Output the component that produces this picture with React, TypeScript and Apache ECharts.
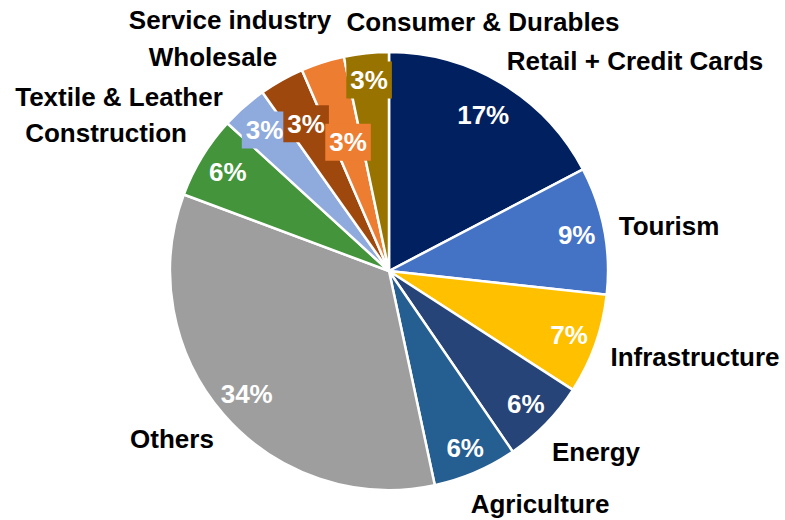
import React, { useEffect, useRef } from "react";
import * as echarts from "echarts";

const categories = [
  "Retail + Credit Cards",
  "Tourism",
  "Infrastructure",
  "Energy",
  "Agriculture",
  "Others",
  "Construction",
  "Textile & Leather",
  "Wholesale",
  "Service industry",
  "Consumer & Durables",
];
const shares = [17.3, 9.4, 7.4, 6.3, 6.2, 34.0, 6.1, 3.4, 3.3, 3.2, 3.3];

const colors = [
  "#002060",
  "#4472C4",
  "#FFC000",
  "#264478",
  "#255E91",
  "#9E9E9E",
  "#43943B",
  "#8FAADC",
  "#9E480E",
  "#ED7D31",
  "#997300",
];
const boxedLabel = [false, false, false, false, false, false, false, true, true, true, true];
const pctLabelRadius = [182, 191, 191, 191, 193, 188, 189, 188, 169, 135, 192];
const nameLabelPos = [
  [635, 61],
  [669, 226],
  [695, 357],
  [596, 452],
  [540, 504],
  [172, 439],
  [106, 133],
  [119, 97],
  [213, 57],
  [230, 20],
  [483, 22],
];
const CENTER = [389, 271];
const RADIUS = 219;
const FONT = "'Liberation Sans', Arial, sans-serif";

export default function App() {
  const ref = useRef<HTMLDivElement>(null);
  useEffect(() => {
    document.body.style.margin = "0";
    if (!ref.current) return;
    const chart = echarts.init(ref.current, null, { renderer: "svg" });
    const total = shares.reduce((a, b) => a + b, 0);
    const midAngle = (i: number) => {
      let cum = 0;
      for (let k = 0; k < i; k++) cum += shares[k];
      return ((cum + shares[i] / 2) / total) * Math.PI * 2;
    };
    const pieData = categories.map((name, i) => ({
      name,
      value: shares[i],
      itemStyle: { color: colors[i] },
      label: boxedLabel[i]
        ? { backgroundColor: colors[i], padding: [6, 4, 5, 4] }
        : {},
    }));
    const nameData = categories.map((name, i) => ({ name, value: shares[i] }));
    chart.setOption({
      animation: false,
      backgroundColor: "#ffffff",
      series: [
        {
          type: "pie",
          center: CENTER,
          radius: RADIUS,
          startAngle: 90,
          clockwise: true,
          avoidLabelOverlap: false,
          silent: true,
          itemStyle: { borderColor: "#ffffff", borderWidth: 2.5 },
          label: {
            show: true,
            position: "inside",
            formatter: (p: any) => Math.round(p.value) + "%",
            color: "#ffffff",
            fontSize: 26,
            fontWeight: "bold",
            fontFamily: FONT,
          },
          labelLine: { show: false },
          labelLayout: (p: any) => {
            const i = p.dataIndex;
            const a = midAngle(i);
            const r = pctLabelRadius[i];
            return {
              x: CENTER[0] + r * Math.sin(a),
              y: CENTER[1] - r * Math.cos(a),
              align: "center",
              verticalAlign: "middle",
            };
          },
          data: pieData,
        },
        {
          type: "pie",
          center: CENTER,
          radius: RADIUS,
          startAngle: 90,
          clockwise: true,
          avoidLabelOverlap: false,
          silent: true,
          z: 5,
          itemStyle: { color: "transparent", borderWidth: 0 },
          label: {
            show: true,
            position: "inside",
            formatter: "{b}",
            color: "#000000",
            fontSize: 26,
            fontWeight: "bold",
            fontFamily: FONT,
          },
          labelLine: { show: false },
          labelLayout: (p: any) => {
            const pos = nameLabelPos[p.dataIndex];
            return { x: pos[0], y: pos[1], align: "center", verticalAlign: "middle" };
          },
          data: nameData,
        },
      ],
    });
    return () => chart.dispose();
  }, []);
  return <div ref={ref} style={{ width: 785, height: 520 }} />;
}
